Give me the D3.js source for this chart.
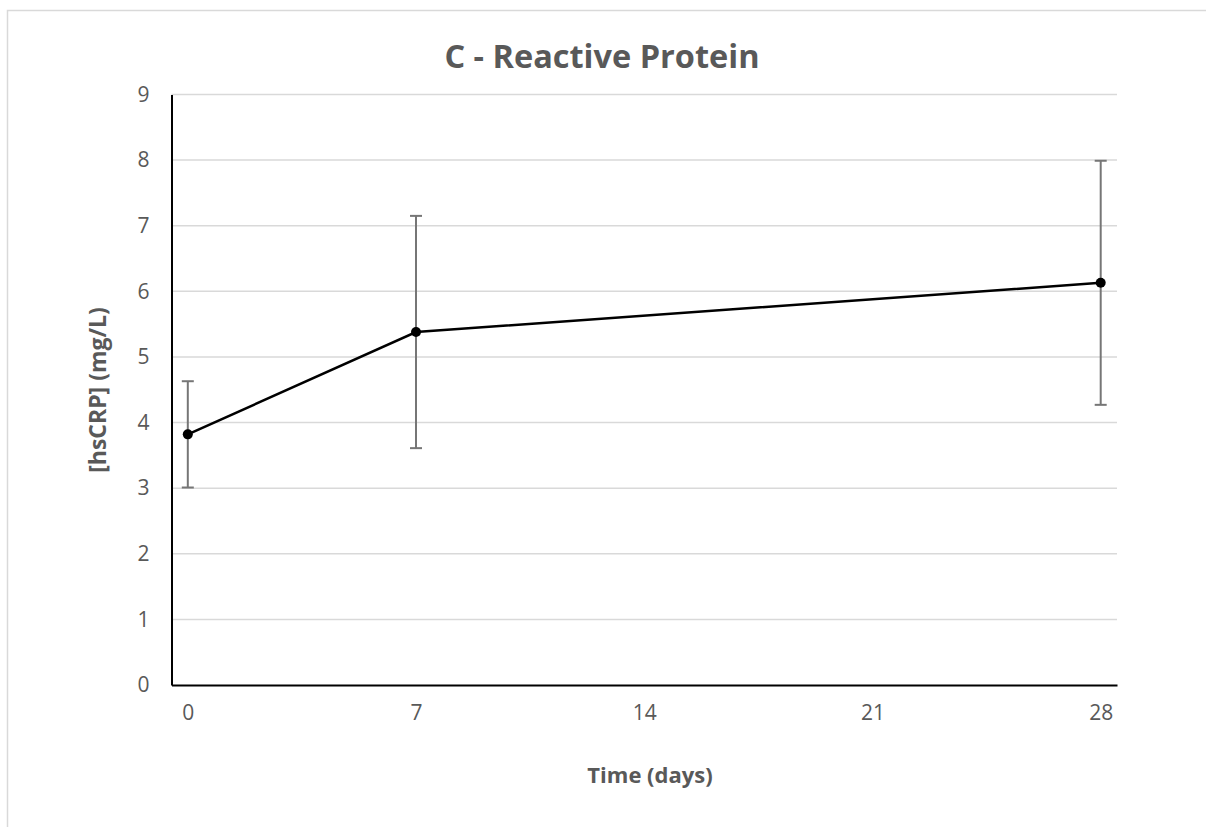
<!DOCTYPE html>
<html lang="en">
<head>
    <meta charset="UTF-8">
    <title>C - Reactive Protein</title>
    <script src="https://d3js.org/d3.v7.min.js"></script>
</head>
<style>
    html,body {
        margin: 0;
        padding: 0;
        background: #fff;
    }
</style>
<body>
    <div id="svg"></div>
</body>
<script>
    // data
    const days = [0, 7, 28];
    const crp = [3.82, 5.38, 6.13];
    const crpErr = [0.81, 1.77, 1.86];
    const xTicks = [0, 7, 14, 21, 28];
    const yTicks = [0, 1, 2, 3, 4, 5, 6, 7, 8, 9];

    const width = 1206;
    const height = 827;
    const margin = {top: 94.5, right: 89, bottom: 142, left: 171.5};
    const font = "'Open Sans', 'Liberation Sans', sans-serif";
    const txt = '#595959';

    const svg = d3.select('#svg').append('svg')
        .attr('width', width)
        .attr('height', height);

    // outer chart border
    svg.append('rect')
        .attr('x', 7.5).attr('y', 10.5)
        .attr('width', width + 20).attr('height', height + 20)
        .attr('fill', 'none')
        .attr('stroke', '#d9d9d9')
        .attr('stroke-width', 1.5);

    const x = d3.scaleLinear()
        .domain([-0.5, 28.5])
        .range([margin.left, width - margin.right]);
    const y = d3.scaleLinear()
        .domain([0, 9])
        .range([height - margin.bottom, margin.top]);

    // gridlines
    svg.append('g')
        .selectAll('line').data(yTicks.filter(d => d > 0)).enter().append('line')
        .attr('x1', x.range()[0]).attr('x2', x.range()[1])
        .attr('y1', d => y(d)).attr('y2', d => y(d))
        .attr('stroke', '#d9d9d9')
        .attr('stroke-width', 1.5);

    // y axis
    const yAxis = svg.append('g')
        .attr('transform', `translate(${margin.left},0)`)
        .call(d3.axisLeft(y).tickValues(yTicks).tickSize(0).tickPadding(22));
    yAxis.select('.domain').attr('stroke', '#000').attr('stroke-width', 2);
    yAxis.selectAll('text')
        .attr('font-family', font).attr('font-size', '21px').attr('fill', txt);

    // x axis
    const xAxis = svg.append('g')
        .attr('transform', `translate(0,${height - margin.bottom})`)
        .call(d3.axisBottom(x).tickValues(xTicks).tickSize(0).tickPadding(20));
    xAxis.select('.domain').attr('stroke', '#000').attr('stroke-width', 2);
    xAxis.selectAll('text')
        .attr('font-family', font).attr('font-size', '21px').attr('fill', txt);

    // error bars
    const eb = svg.append('g').attr('stroke', '#767676').attr('stroke-width', 2);
    days.forEach((d, i) => {
        const lo = y(crp[i] - crpErr[i]);
        const hi = y(crp[i] + crpErr[i]);
        eb.append('line').attr('x1', x(d)).attr('x2', x(d)).attr('y1', lo).attr('y2', hi);
        eb.append('line').attr('x1', x(d) - 6).attr('x2', x(d) + 6).attr('y1', lo).attr('y2', lo);
        eb.append('line').attr('x1', x(d) - 6).attr('x2', x(d) + 6).attr('y1', hi).attr('y2', hi);
    });

    // line
    const line = d3.line()
        .x((d, i) => x(days[i]))
        .y(d => y(d));
    svg.append('path')
        .datum(crp)
        .attr('d', line)
        .attr('fill', 'none')
        .attr('stroke', '#000')
        .attr('stroke-width', 2.5);

    // markers
    svg.selectAll('circle.pt').data(crp).enter().append('circle')
        .attr('class', 'pt')
        .attr('cx', (d, i) => x(days[i]))
        .attr('cy', d => y(d))
        .attr('r', 5)
        .attr('fill', '#000');

    // title
    svg.append('text')
        .attr('x', 602).attr('y', 68)
        .attr('text-anchor', 'middle')
        .attr('font-family', font).attr('font-size', '32.5px').attr('font-weight', 'bold')
        .attr('fill', txt)
        .text('C - Reactive Protein');

    // axis titles
    svg.append('text')
        .attr('x', 650).attr('y', 783)
        .attr('text-anchor', 'middle')
        .attr('font-family', font).attr('font-size', '22px').attr('font-weight', 'bold')
        .attr('fill', txt)
        .text('Time (days)');

    svg.append('text')
        .attr('transform', 'translate(106,390) rotate(-90)')
        .attr('text-anchor', 'middle')
        .attr('font-family', font).attr('font-size', '23px').attr('font-weight', 'bold')
        .attr('fill', txt)
        .text('[hsCRP] (mg/L)');
</script>
</html>
